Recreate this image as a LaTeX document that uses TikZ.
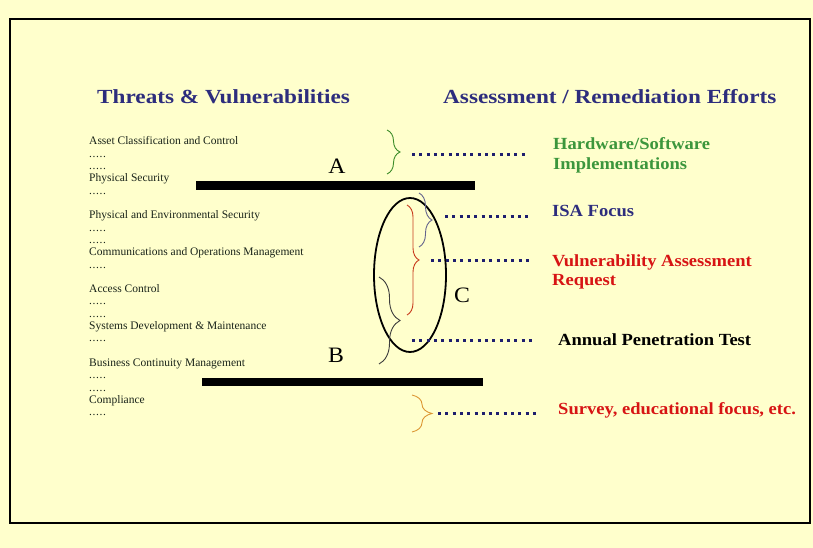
\documentclass[tikz,border=0pt]{standalone}
\usepackage{fontspec}
\setmainfont{Liberation Serif}
\usetikzlibrary{decorations.pathreplacing}

\definecolor{paper}{RGB}{255,255,204}
\definecolor{headblue}{RGB}{45,45,125}
\definecolor{itemgray}{RGB}{25,35,25}
\definecolor{dotblue}{RGB}{30,30,110}
\definecolor{effgreen}{RGB}{60,150,60}
\definecolor{effred}{RGB}{215,20,20}
\definecolor{bracegreen}{RGB}{60,140,40}
\definecolor{braceslate}{RGB}{100,100,140}
\definecolor{bracered}{RGB}{200,60,30}
\definecolor{bracedark}{RGB}{60,60,60}
\definecolor{braceorange}{RGB}{220,150,50}

\newcommand{\fillrow}{.\kern0.6pt.\kern0.6pt.\kern0.6pt.\kern0.6pt.}

\tikzset{
  heading/.style={anchor=base west, inner sep=0pt, xscale=1.16,
    font=\fontsize{20}{24}\selectfont\bfseries, text=headblue},
  item/.style={anchor=base west, inner sep=0pt,
    font=\fontsize{11.5}{14}\selectfont, text=itemgray},
  effort/.style={anchor=base west, inner sep=0pt, xscale=1.09, align=left,
    font=\fontsize{17}{19.5}\selectfont\bfseries},
  letter/.style={font=\fontsize{22}{26}\selectfont, xscale=1.08},
  bar/.style={line width=8pt},
  dotline/.style={draw=dotblue, line width=3pt, dash pattern=on 3pt off 4.3pt},
  bracket/.style={decorate, decoration={brace, amplitude=#1}, line width=0.9pt},
}

\begin{document}
\begin{tikzpicture}[x=1pt, y=-1pt]
    % background and frame
    \fill[paper] (0,0) rectangle (813,548);
    \useasboundingbox (0,0) rectangle (813,548);
    \draw[line width=2.5pt] (10,19) rectangle (810,523);

    % headings
    \node[heading] (threats) at (97,104) {Threats \& Vulnerabilities};
    \node[heading] (efforts) at (443,104) {Assessment / Remediation Efforts};

    % list of control areas (one row = 12.3)
    \foreach \r/\t in {0/Asset Classification and Control, 1/\fillrow, 2/\fillrow,
        3/Physical Security, 4/\fillrow,
        6/Physical and Environmental Security, 7/\fillrow, 8/\fillrow,
        9/Communications and Operations Management, 10/\fillrow,
        12/Access Control, 13/\fillrow, 14/\fillrow,
        15/Systems Development \& Maintenance, 16/\fillrow,
        18/Business Continuity Management, 19/\fillrow, 20/\fillrow,
        21/Compliance, 22/\fillrow}
      \node[item] (item\r) at (89,145+12.3*\r) {\t};

    % dividing bars
    \draw[bar] (196,185.5) -- (475,185.5);
    \draw[bar] (202,382) -- (483,382);
    \node[letter] (A) at (337,166) {A};
    \node[letter] (B) at (336,355) {B};

    % ellipse C
    \draw[line width=1.8pt] (410,275) ellipse [x radius=36, y radius=77];
    \node[letter] (C) at (462,295) {C};

    % braces
    \draw[bracket=13pt, draw=bracegreen] (387,130) -- (387,174);
    \draw[bracket=13pt, draw=braceslate] (419,193) -- (419,247);
    \draw[bracket=12pt, draw=bracered] (407,205) -- (407,315);
    \draw[bracket=21pt, draw=bracedark] (379,277) -- (379,364);
    \draw[bracket=20pt, draw=braceorange] (412,395) -- (412,432);

    % efforts (base = last line of the node)
    \node[effort, text=effgreen] (hw) at (553,169.5) {Hardware/Software\\Implementations};
    \node[effort, text=headblue] (isa) at (552,216.5) {ISA Focus};
    \node[effort, text=effred] (vuln) at (552,285.5) {Vulnerability Assessment\\Request};
    \node[effort, text=black] (pen) at (558,345.5) {Annual Penetration Test};
    \node[effort, text=effred] (survey) at (558,414) {Survey, educational focus, etc.};

    % dotted leaders
    \coordinate (hw-tip) at (412,155);
    \coordinate (isa-tip) at (445,216);
    \coordinate (vuln-tip) at (431,260);
    \coordinate (pen-tip) at (412,340);
    \coordinate (survey-tip) at (438,413);
    \draw[dotline, shorten >=25pt] (hw-tip) -- (hw-tip -| hw.west);
    \draw[dotline, shorten >=22pt] (isa-tip) -- (isa-tip -| isa.west);
    \draw[dotline, shorten >=22pt] (vuln-tip) -- (vuln-tip -| vuln.west);
    \draw[dotline, shorten >=23pt] (pen-tip) -- (pen-tip -| pen.west);
    \draw[dotline, shorten >=21pt] (survey-tip) -- (survey-tip -| survey.west);
\end{tikzpicture}
\end{document}
